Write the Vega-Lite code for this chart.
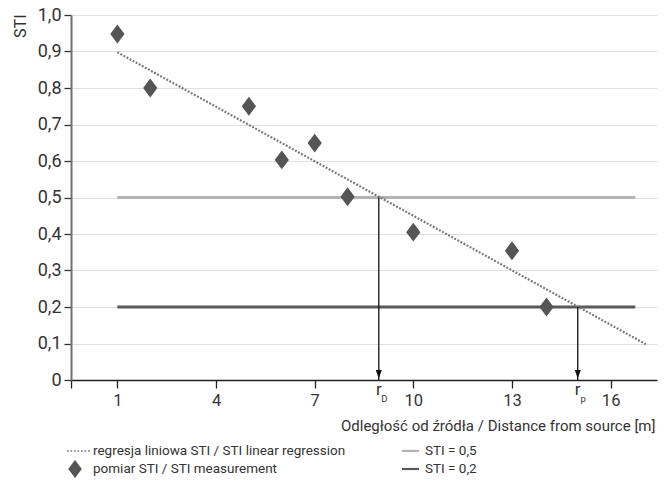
{
  "$schema": "https://vega.github.io/schema/vega-lite/v6.json",
  "width": 586,
  "height": 365,
  "autosize": {"type": "none"},
  "padding": {"left": 71, "top": 15, "right": 10, "bottom": 109},
  "background": "white",
  "config": {
    "view": {"stroke": null},
    "font": "Roboto",
    "text": {"font": "Roboto", "color": "#333"}
  },
  "datasets": {
    "meas": [
      {"x": 1, "y": 0.948, "series": "pomiar STI / STI measurement"},
      {"x": 2, "y": 0.8, "series": "pomiar STI / STI measurement"},
      {"x": 5, "y": 0.75, "series": "pomiar STI / STI measurement"},
      {"x": 6, "y": 0.603, "series": "pomiar STI / STI measurement"},
      {"x": 7, "y": 0.649, "series": "pomiar STI / STI measurement"},
      {"x": 8, "y": 0.502, "series": "pomiar STI / STI measurement"},
      {"x": 10, "y": 0.405, "series": "pomiar STI / STI measurement"},
      {"x": 13, "y": 0.354, "series": "pomiar STI / STI measurement"},
      {"x": 14.05, "y": 0.2, "series": "pomiar STI / STI measurement"}
    ],
    "reg": [
      {"x": 1, "y": 0.898},
      {"x": 17.07, "y": 0.098}
    ],
    "thr": [
      {"y": 0.5, "x": 1, "x2": 16.75, "level": "0.5"},
      {"y": 0.2, "x": 1, "x2": 16.75, "level": "0.2"}
    ],
    "arrows": [
      {"x": 8.95, "y": 0.5, "label": "r", "sub": "D"},
      {"x": 15.0, "y": 0.2, "label": "r", "sub": "p"}
    ]
  },
  "encoding": {
    "x": {
      "field": "x",
      "type": "quantitative",
      "scale": {"domain": [-0.41, 17.41], "nice": false, "zero": false},
      "axis": {
        "values": [-0.41, 1, 4, 7, 10, 13, 16],
        "labelExpr": "datum.value < 0 ? '' : datum.label",
        "grid": false,
        "domainColor": "#222",
        "domainWidth": 1.5,
        "tickColor": "#222",
        "tickSize": 8,
        "tickWidth": 1.3,
        "labelFont": "Roboto",
        "labelFontSize": 16.5,
        "labelColor": "#333",
        "labelPadding": 4,
        "labelFlush": false,
        "labelOverlap": false,
        "title": "Odległość od źródła / Distance from source [m]",
        "titleFont": "Roboto",
        "titleFontSize": 15,
        "titleFontWeight": "normal",
        "titleColor": "#333",
        "titleAnchor": "end",
        "titleAlign": "right",
        "titleBaseline": "middle",
        "titleX": 584,
        "titleY": 45
      }
    },
    "y": {
      "field": "y",
      "type": "quantitative",
      "scale": {"domain": [0, 1], "nice": false},
      "axis": {
        "values": [0, 0.1, 0.2, 0.3, 0.4, 0.5, 0.6, 0.7, 0.8, 0.9, 1.0],
        "labelExpr": "datum.value == 0 ? '0' : replace(format(datum.value, '.1f'), '.', ',')",
        "grid": true,
        "gridColor": "#e0e0e0",
        "gridWidth": 1.2,
        "domainColor": "#707070",
        "domainWidth": 2,
        "tickColor": "#333",
        "tickSize": 7,
        "tickWidth": 1.3,
        "labelFont": "Roboto",
        "labelFontSize": 18,
        "labelColor": "#333",
        "labelPadding": 3,
        "labelFlush": false,
        "title": "STI",
        "titleFont": "Roboto",
        "titleFontSize": 16,
        "titleFontWeight": "normal",
        "titleColor": "#333",
        "titleAngle": -90,
        "titleAlign": "right",
        "titleBaseline": "middle",
        "titleX": -51,
        "titleY": -1
      }
    }
  },
  "layer": [
    {
      "data": {"name": "thr"},
      "mark": {"type": "rule", "strokeWidth": 3},
      "encoding": {
        "x2": {"field": "x2"},
        "stroke": {
          "field": "level",
          "type": "nominal",
          "scale": {"domain": ["0.5", "0.2"], "range": ["#b3b3b3", "#595959"]},
          "legend": null
        }
      }
    },
    {
      "data": {"name": "reg"},
      "mark": {"type": "line", "color": "#777777", "strokeWidth": 2.2, "strokeDash": [1.9, 1.6], "strokeCap": "butt"},
      "encoding": {}
    },
    {
      "data": {"name": "arrows"},
      "mark": {"type": "rule", "color": "#111", "strokeWidth": 1.3},
      "encoding": {
        "y2": {"datum": 0}
      }
    },
    {
      "data": {"name": "arrows"},
      "mark": {"type": "point", "filled": true, "opacity": 1, "color": "#111", "size": 400, "shape": "M-0.3,-1L0.3,-1L0,-0.15Z"},
      "encoding": {
        "y": {"datum": 0}
      }
    },
    {
      "data": {"name": "arrows"},
      "mark": {"type": "text", "fontSize": 17, "align": "center", "baseline": "alphabetic", "dy": 15, "color": "#333"},
      "encoding": {
        "y": {"datum": 0},
        "text": {"field": "label"}
      }
    },
    {
      "data": {"name": "arrows"},
      "mark": {"type": "text", "fontSize": 9.5, "align": "center", "baseline": "alphabetic", "dx": 5.5, "dy": 21.5, "color": "#333"},
      "encoding": {
        "y": {"datum": 0},
        "text": {"field": "sub"}
      }
    },
    {
      "data": {"name": "meas"},
      "mark": {"type": "point", "filled": true, "opacity": 1, "size": 440, "strokeWidth": 0},
      "encoding": {
        "shape": {
          "field": "series",
          "type": "nominal",
          "scale": {
            "domain": ["regresja liniowa STI / STI linear regression", "STI = 0,5", "pomiar STI / STI measurement", "STI = 0,2"],
            "range": [
              "M-0.8,-0.08h0.17v0.16h-0.17Z M-0.45,-0.08h0.17v0.16h-0.17Z M-0.1,-0.08h0.17v0.16h-0.17Z M0.25,-0.08h0.17v0.16h-0.17Z M0.6,-0.08h0.17v0.16h-0.17Z M0.95,-0.08h0.17v0.16h-0.17Z M1.3,-0.08h0.17v0.16h-0.17Z",
              "M-0.5,-0.11H1.2V0.11H-0.5Z",
              "M0,-0.9L0.68,0L0,0.9L-0.68,0Z",
              "M-0.5,-0.11H1.2V0.11H-0.5Z"
            ]
          },
          "legend": {
            "title": null,
            "orient": "none",
            "legendX": -6,
            "legendY": 425.7,
            "direction": "horizontal",
            "columns": 2,
            "columnPadding": 51,
            "rowPadding": 1.3,
            "padding": 0,
            "symbolSize": 400,
            "symbolStrokeWidth": 0,
            "labelFont": "Roboto",
            "labelFontSize": 13.5,
            "labelColor": "#333",
            "labelOffset": 8,
            "labelLimit": 400
          }
        },
        "color": {
          "field": "series",
          "type": "nominal",
          "scale": {
            "domain": ["regresja liniowa STI / STI linear regression", "STI = 0,5", "pomiar STI / STI measurement", "STI = 0,2"],
            "range": ["#7a7a7a", "#b3b3b3", "#555555", "#595959"]
          },
          "legend": {
            "title": null,
            "orient": "none",
            "legendX": -6,
            "legendY": 425.7,
            "direction": "horizontal",
            "columns": 2,
            "columnPadding": 51,
            "rowPadding": 1.3,
            "padding": 0,
            "symbolSize": 400,
            "symbolStrokeWidth": 0,
            "labelFont": "Roboto",
            "labelFontSize": 13.5,
            "labelColor": "#333",
            "labelOffset": 8,
            "labelLimit": 400
          }
        }
      }
    }
  ]
}
